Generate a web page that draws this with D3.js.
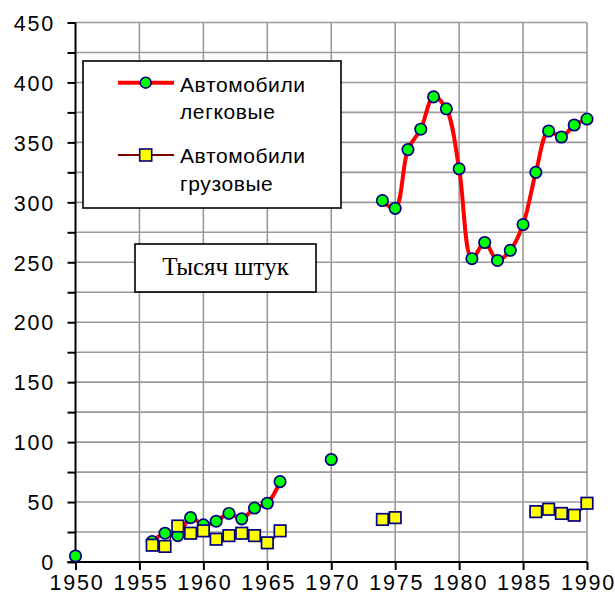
<!DOCTYPE html>
<html><head><meta charset="utf-8">
<script src="https://cdn.jsdelivr.net/npm/d3@7"></script>
<style>
html,body{margin:0;padding:0;background:#fff;}
svg{display:block;}
</style></head>
<body>
<svg id="chart" width="615" height="601"></svg>
<script>
// ---- data ----
const carYears   = [1950,1956,1957,1958,1959,1960,1961,1962,1963,1964,1965,1966,1970,
                    1974,1975,1976,1977,1978,1979,1980,1981,1982,1983,1984,1985,1986,1987,1988,1989,1990];
const carValues  = [5,17,24,22,37,31,34,40.5,36,45,49,67,85.5,
                    301.5,295,344,361,388,378,328,253,266.5,251.5,260,281.5,325,359.5,354.5,364.5,369.5];
const truckYears  = [1956,1957,1958,1959,1960,1961,1962,1963,1964,1965,1966,1974,1975,1986,1987,1988,1989,1990];
const truckValues = [14,13,30,24,26,19,22,24,22,16,26,35.5,37,42,44,40.5,39,49];
const xTicks = [1950,1955,1960,1965,1970,1975,1980,1985,1990];
const yTicks = [0,50,100,150,200,250,300,350,400,450];
const seriesNames = [["Автомобили","легковые"],["Автомобили","грузовые"]];
const unitLabel = "Тысяч штук";

// ---- layout ----
const SANS = "'Liberation Sans',Arial,sans-serif";
const SERIF = "'Liberation Serif','Times New Roman',serif";
const svg = d3.select("#chart");
const x = d3.scaleLinear().domain([1950,1990]).range([75.5,587]);
const y = d3.scaleLinear().domain([0,450]).range([562,22.5]);
const gridColor = "#9a9a9a";

// grid
const g = svg.append("g");
const yMinor = d3.range(25,451,25);
g.selectAll("line.hg").data(yMinor).join("line")
  .attr("x1",x(1950)).attr("x2",x(1990))
  .attr("y1",d=>y(d)).attr("y2",d=>y(d))
  .attr("stroke",gridColor).attr("stroke-width",1.6);
g.selectAll("line.vg").data(xTicks.slice(1)).join("line")
  .attr("x1",d=>x(d)).attr("x2",d=>x(d))
  .attr("y1",y(0)).attr("y2",y(450))
  .attr("stroke",gridColor).attr("stroke-width",1.6);

// axes
const yAxis = d3.axisLeft(y).tickValues(d3.range(0,451,25)).tickSize(8)
  .tickFormat(d=> yTicks.includes(d) ? d : "");
const ya = svg.append("g").attr("transform",`translate(${x(1950)},0)`).call(yAxis);
ya.select(".domain").attr("stroke","#000").attr("stroke-width",2).attr("d",`M0,${y(450)}V${y(0)}`);
ya.selectAll(".tick line").attr("stroke","#000").attr("stroke-width",2);
ya.selectAll(".tick text").attr("fill","#000").attr("x",-20.5).attr("dy","0.36em")
  .style("font-family",SANS).style("font-size","21.5px").style("letter-spacing","1.8px");

const xAxis = d3.axisBottom(x).tickValues(xTicks).tickSize(8).tickFormat(d3.format("d"));
const xa = svg.append("g").attr("transform",`translate(0,${y(0)})`).call(xAxis);
xa.select(".domain").attr("stroke","#000").attr("stroke-width",2).attr("d",`M${x(1950)-8},0H${x(1990)}`);
xa.selectAll(".tick line").attr("stroke","#000").attr("stroke-width",2);
xa.selectAll(".tick text").attr("fill","#000").attr("y",13).attr("dy","0.71em").attr("dx","1px")
  .style("font-family",SANS).style("font-size","21.5px").style("letter-spacing","1.8px");

// runs of consecutive years
function runs(years, vals){
  const out=[]; let cur=[];
  years.forEach((yr,i)=>{
    if(cur.length && yr-cur[cur.length-1][0]!==1){ out.push(cur); cur=[]; }
    cur.push([yr,vals[i]]);
  });
  if(cur.length) out.push(cur);
  return out.filter(r=>r.length>1);
}
const line = d3.line().x(d=>x(d[0])).y(d=>y(d[1])).curve(d3.curveCatmullRom.alpha(0.5));

// car line
svg.append("g").selectAll("path").data(runs(carYears,carValues)).join("path")
  .attr("d",line).attr("fill","none").attr("stroke","#ff0000").attr("stroke-width",4)
  .attr("stroke-linejoin","round");
// truck line
svg.append("g").selectAll("path").data(runs(truckYears,truckValues)).join("path")
  .attr("d",line).attr("fill","none").attr("stroke","#800000").attr("stroke-width",1.5);

// car markers
svg.append("g").selectAll("circle").data(carYears.map((yr,i)=>[yr,carValues[i]])).join("circle")
  .attr("cx",d=>x(d[0])).attr("cy",d=>y(d[1])).attr("r",5.7)
  .attr("fill","#00ff00").attr("stroke","#000080").attr("stroke-width",1.7);
// truck markers
const s=11.5;
svg.append("g").selectAll("rect").data(truckYears.map((yr,i)=>[yr,truckValues[i]])).join("rect")
  .attr("x",d=>x(d[0])-s/2).attr("y",d=>y(d[1])-s/2).attr("width",s).attr("height",s)
  .attr("fill","#ffff00").attr("stroke","#000080").attr("stroke-width",1.7);

// legend
const lg = svg.append("g");
lg.append("rect").attr("x",83).attr("y",61).attr("width",258).attr("height",147)
  .attr("fill","#fff").attr("stroke","#000").attr("stroke-width",1.6);
lg.append("line").attr("x1",118).attr("x2",174).attr("y1",82.7).attr("y2",82.7)
  .attr("stroke","#ff0000").attr("stroke-width",4);
lg.append("circle").attr("cx",145.7).attr("cy",82.7).attr("r",5.4)
  .attr("fill","#00ff00").attr("stroke","#000080").attr("stroke-width",1.6);
lg.append("line").attr("x1",118).attr("x2",174).attr("y1",155).attr("y2",155)
  .attr("stroke","#800000").attr("stroke-width",1.8);
lg.append("rect").attr("x",145.7-6).attr("y",155-6).attr("width",12).attr("height",12)
  .attr("fill","#ffff00").attr("stroke","#000080").attr("stroke-width",1.6);
const baselines=[[91.7,119.3],[163.3,190.7]];
seriesNames.forEach((nm,i)=>{
  nm.forEach((t,j)=>{
    lg.append("text").attr("x",180).attr("y",baselines[i][j]).attr("fill","#000")
      .style("font-family",SANS).style("font-size","21px").style("letter-spacing","0.6px").text(t);
  });
});

// unit label box
const ub = svg.append("g");
ub.append("rect").attr("x",135).attr("y",244).attr("width",181).attr("height",48)
  .attr("fill","#fff").attr("stroke","#000").attr("stroke-width",1.6);
ub.append("text").attr("x",225.5).attr("y",274.5).attr("text-anchor","middle").attr("fill","#000")
  .style("font-family",SERIF).style("font-size","25px").text(unitLabel);
</script>
</body></html>
